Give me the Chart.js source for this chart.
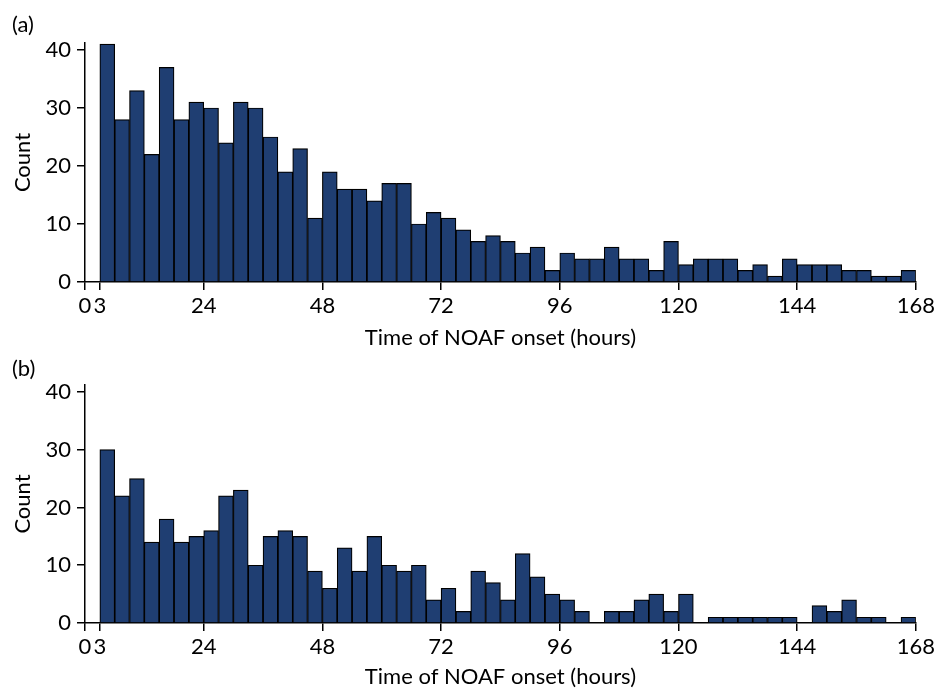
<!DOCTYPE html>
<html>
<head>
<meta charset="utf-8">
<script src="https://cdn.jsdelivr.net/npm/chart.js@4.4.0/dist/chart.umd.min.js"></script>
<style>
  body { margin: 0; background: #fff; overflow: hidden; }
  canvas { position: absolute; left: 0; }
</style>
</head>
<body>
<canvas id="chartA" width="938" height="352" style="top:0"></canvas>
<canvas id="chartB" width="938" height="336" style="top:352px"></canvas>
<script>
// bin start (hours), every bin is 3 hours wide
const binStarts = [3, 6, 9, 12, 15, 18, 21, 24, 27, 30, 33, 36, 39, 42, 45, 48, 51, 54, 57, 60,
  63, 66, 69, 72, 75, 78, 81, 84, 87, 90, 93, 96, 99, 102, 105, 108, 111, 114, 117, 120,
  123, 126, 129, 132, 135, 138, 141, 144, 147, 150, 153, 156, 159, 162, 165];

// panel (a)
const countsA = [41, 28, 33, 22, 37, 28, 31, 30, 24, 31, 30, 25, 19, 23, 11, 19, 16, 16, 14, 17,
  17, 10, 12, 11, 9, 7, 8, 7, 5, 6, 2, 5, 4, 4, 6, 4, 4, 2, 7, 3,
  4, 4, 4, 2, 3, 1, 4, 3, 3, 3, 2, 2, 1, 1, 2];

// panel (b)
const countsB = [30, 22, 25, 14, 18, 14, 15, 16, 22, 23, 10, 15, 16, 15, 9, 6, 13, 9, 15, 10,
  9, 10, 4, 6, 2, 9, 7, 4, 12, 8, 5, 4, 2, 0, 2, 2, 4, 5, 2, 5,
  0, 1, 1, 1, 1, 1, 1, 0, 3, 2, 4, 1, 1, 0, 1];

const xTickValues = [0, 3, 24, 48, 72, 96, 120, 144, 168];
const yTickValues = [0, 10, 20, 30, 40];

Chart.defaults.font.family = 'Lato';
Chart.defaults.color = '#000';

function makeConfig(panel, counts, o) {
  return {
    type: 'bar',
    data: {
      datasets: [{
        data: binStarts.map((s, i) => ({ x: s + 1.5, y: counts[i] === 0 ? null : counts[i] })),
        backgroundColor: '#1f3e72',
        borderColor: '#000',
        borderWidth: 1.2,
        barPercentage: 1,
        categoryPercentage: 1
      }]
    },
    options: {
      responsive: false,
      animation: false,
      layout: { padding: { left: 12, right: 21, top: 0, bottom: o.padBottom } },
      plugins: {
        legend: { display: false },
        tooltip: { enabled: false },
        title: {
          display: true,
          text: panel,
          align: 'start',
          color: '#000',
          font: { size: 22, weight: 'normal', lineHeight: 1 },
          padding: { top: o.titleTop, bottom: o.titleBottom }
        }
      },
      scales: {
        x: {
          type: 'linear',
          min: 0,
          max: 168,
          offset: false,
          afterBuildTicks: s => { s.ticks = xTickValues.map(v => ({ value: v })); },
          afterFit: s => { s.height = o.xHeight; },
          ticks: { autoSkip: false, maxRotation: 0, padding: 3, font: { size: 22 }, callback: v => String(v) },
          grid: { offset: false, drawOnChartArea: false, tickLength: 8, color: '#000', lineWidth: 1.5 },
          border: { color: '#000', width: 1.5 },
          title: { display: true, text: 'Time of NOAF onset (hours)', font: { size: 22, lineHeight: 1 }, padding: 0 }
        },
        y: {
          min: 0,
          max: 41.2,
          afterBuildTicks: s => { s.ticks = yTickValues.map(v => ({ value: v })); },
          afterFit: s => { s.width = 73; },
          ticks: { padding: 6, font: { size: 22 } },
          grid: { drawOnChartArea: false, tickLength: 8, color: '#000', lineWidth: 1.5 },
          border: { color: '#000', width: 1.5 },
          title: { display: true, text: 'Count', font: { size: 22, lineHeight: 1 }, padding: 0 }
        }
      }
    }
  };
}

const chartA = new Chart(
  document.getElementById('chartA'),
  makeConfig('(a)', countsA, { titleTop: 14, titleBottom: 7, xHeight: 67, padBottom: 3 })
);

const chartB = new Chart(
  document.getElementById('chartB'),
  makeConfig('(b)', countsB, { titleTop: 6, titleBottom: 5, xHeight: 65, padBottom: 0 })
);
</script>
</body>
</html>
